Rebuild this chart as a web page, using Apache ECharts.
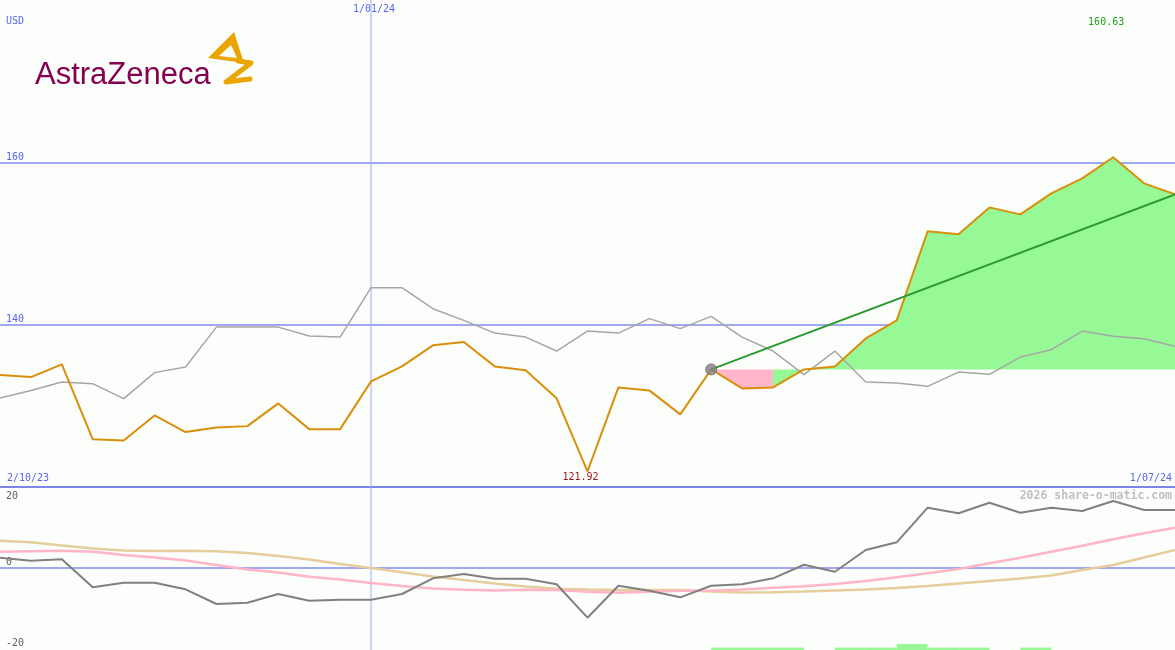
<!DOCTYPE html>
<html><head><meta charset="utf-8">
<script src="https://cdn.jsdelivr.net/npm/echarts@6/dist/echarts.min.js"></script>
<style>html,body{margin:0;padding:0;background:#fcfefc}#c{width:1175px;height:650px}</style>
</head><body><div id="c"></div>
<script>
// ---- data ----
const tickIndex = [0, 12, 38];
const tickLabels = ['2/10/23', '1/01/24', '1/07/24'];
const price = [133.79,133.54,135.11,125.87,125.74,128.82,126.77,127.34,127.50,130.30,127.13,127.13,133.01,134.86,137.45,137.86,134.86,134.37,130.92,121.92,132.27,131.90,128.95,134.49,132.15,132.27,134.49,134.86,138.31,140.53,151.50,151.13,154.45,153.59,156.18,158.03,160.63,157.41,156.06];
const relative = [130.95,131.90,132.93,132.73,130.88,134.09,134.78,139.70,139.70,139.70,138.60,138.47,144.56,144.56,141.97,140.53,138.96,138.47,136.75,139.21,138.96,140.74,139.51,141.02,138.47,136.75,133.84,136.75,132.93,132.80,132.40,134.16,133.88,136.01,136.92,139.21,138.56,138.27,137.33];
const momentum = [2.48,1.73,2.08,-4.86,-3.72,-3.72,-5.35,-9.00,-8.67,-6.52,-8.18,-7.93,-7.93,-6.52,-2.63,-1.56,-2.73,-2.73,-4.11,-12.39,-4.46,-5.70,-7.34,-4.46,-4.11,-2.63,0.74,-0.99,4.39,6.29,14.87,13.48,16.11,13.63,14.87,14.05,16.53,14.30,14.30];
const avgFast = [3.97,4.09,4.21,3.97,3.15,2.53,1.78,0.67,-0.45,-1.19,-2.23,-2.92,-3.79,-4.54,-5.15,-5.45,-5.65,-5.48,-5.53,-5.95,-6.20,-5.95,-5.70,-5.70,-5.40,-4.96,-4.61,-4.04,-3.30,-2.38,-1.39,-0.32,1.09,2.48,3.97,5.45,7.04,8.53,9.91];
const avgSlow = [6.69,6.32,5.50,4.76,4.26,4.14,4.19,4.09,3.64,2.90,2.03,0.92,-0.07,-1.12,-2.18,-3.05,-3.92,-4.66,-5.23,-5.40,-5.53,-5.53,-5.53,-5.90,-6.15,-6.10,-5.90,-5.65,-5.40,-5.03,-4.54,-3.92,-3.30,-2.68,-1.93,-0.57,0.67,2.53,4.39];
const signalBars = [null,null,null,null,null,null,null,null,null,null,null,null,null,null,null,null,null,null,null,null,null,null,null,0.6,0.6,0.6,null,0.6,0.6,1.5,0.6,0.6,null,0.6,null,null,null,null];
const anchorIndex = 23;
const splitIndex = 25;
const maxLabelRow = 177.3;

// ---- derived ----
const N = price.length;
const base = price[anchorIndex];
const pts = arr => arr.map((v, i) => [i, v]);
const pinkData = pts(price).slice(anchorIndex, splitIndex + 1);
const greenData = pts(price).slice(splitIndex);
let maxIdx = 0; price.forEach((v, i) => { if (v > price[maxIdx]) maxIdx = i; });
const labelOf = v => { const k = tickIndex.indexOf(Math.round(v)); return k >= 0 ? tickLabels[k] : ''; };
const barData = [];
signalBars.forEach((h, i) => { if (h != null) barData.push([i, h]); });
const barBase = -20.4;
const mainRange = [120, 180];
const lowRange = [-20, 20];

const BLUE = '#5a64f0';
const GRID = '#a0a8f0';
const VLINE = '#a0aaff';
const FONT = 'DejaVu Sans Mono';
const GOLD = '#eba500';

const chart = echarts.init(document.getElementById('c'), null, {renderer: 'canvas'});
chart.setOption({
  backgroundColor: '#fcfefc',
  animation: false,
  grid: [
    {left: 0, right: 0, top: 0, height: 487},
    {left: 0, right: 0, top: 487, height: 161.4}
  ],
  xAxis: [
    {gridIndex: 0, type: 'value', min: 0, max: N - 1, interval: N - 1, position: 'bottom',
     axisLine: {show: true, lineStyle: {color: '#7a86ea', width: 2}},
     axisTick: {show: false}, splitLine: {show: false},
     axisLabel: {inside: true, margin: 4, color: BLUE, fontFamily: FONT, fontSize: 10,
       alignMinLabel: 'left', alignMaxLabel: 'right', padding: [0, 3, 0, 7], formatter: labelOf}},
    {gridIndex: 0, type: 'value', min: 0, max: N - 1, interval: tickIndex[1], position: 'top',
     axisLine: {show: false}, axisTick: {show: false}, splitLine: {show: false},
     axisLabel: {inside: true, margin: 4, color: BLUE, fontFamily: FONT, fontSize: 10,
       showMinLabel: false, showMaxLabel: false, padding: [0, 0, 0, 6], formatter: labelOf}},
    {gridIndex: 1, type: 'value', min: 0, max: N - 1, show: false}
  ],
  yAxis: [
    {gridIndex: 0, type: 'value', min: mainRange[0], max: mainRange[1], interval: 20,
     axisLine: {show: false}, axisTick: {show: false},
     splitLine: {show: true, showMinLine: false, showMaxLine: false, lineStyle: {color: GRID, width: 2}},
     axisLabel: {inside: true, margin: 6, color: BLUE, fontFamily: FONT, fontSize: 10,
       verticalAlign: 'bottom', showMinLabel: false, showMaxLabel: false}},
    {gridIndex: 1, type: 'value', min: lowRange[0], max: lowRange[1], interval: 20,
     axisLine: {show: false}, axisTick: {show: false},
     splitLine: {show: true, showMinLine: false, showMaxLine: false, lineStyle: {color: GRID, width: 2}},
     axisLabel: {inside: true, margin: 6, color: '#606060', fontFamily: FONT, fontSize: 10,
       verticalAlign: 'bottom', verticalAlignMaxLabel: 'top', padding: [4, 0, 0, 0]}}
  ],
  graphic: [
    {type: 'text', left: 6, top: 16, style: {text: 'USD', fill: BLUE, font: '10px "DejaVu Sans Mono"'}},
    {type: 'text', right: 3, top: 490, style: {text: '2026 share-o-matic.com', fill: '#c0c0c0', font: 'bold 11.5px "DejaVu Sans Mono"'}},
    {type: 'text', x: 35, y: 75, style: {text: 'AstraZeneca', fill: '#850051', font: '31px "Liberation Sans"', verticalAlign: 'middle'}},
    {type: 'polygon', shape: {points: [[234,32],[208,58],[244,63]]}, style: {fill: GOLD}},
    {type: 'polygon', shape: {points: [[231,45],[219,56],[237,58]]}, style: {fill: '#fcfefc'}},
    {type: 'polyline', shape: {points: [[238,61],[251,63],[226,82],[250,79]]},
     style: {stroke: GOLD, lineWidth: 5, lineJoin: 'round', lineCap: 'round', fill: null}}
  ],
  series: [
    {type: 'line', xAxisIndex: 0, yAxisIndex: 0, data: [[tickIndex[1], mainRange[0]], [tickIndex[1], mainRange[1]]],
     symbol: 'none', z: 1, silent: true, lineStyle: {color: VLINE, width: 1}},
    {type: 'line', xAxisIndex: 2, yAxisIndex: 1, data: [[tickIndex[1], barBase], [tickIndex[1], lowRange[1]]],
     symbol: 'none', z: 1, silent: true, clip: false, lineStyle: {color: VLINE, width: 1}},
    {type: 'line', xAxisIndex: 0, yAxisIndex: 0, data: pts(relative), symbol: 'none', z: 3,
     lineStyle: {color: '#a6a6a6', width: 1.5}},
    {type: 'line', xAxisIndex: 0, yAxisIndex: 0, data: pinkData, symbol: 'none', z: 2,
     lineStyle: {width: 0}, areaStyle: {color: '#ffb6c8', opacity: 1, origin: base}},
    {type: 'line', xAxisIndex: 0, yAxisIndex: 0, data: greenData, symbol: 'none', z: 2,
     lineStyle: {width: 0}, areaStyle: {color: '#96f996', opacity: 1, origin: base}},
    {type: 'line', xAxisIndex: 0, yAxisIndex: 0, data: pts(price), symbol: 'none', z: 4,
     lineStyle: {color: '#d98f0a', width: 2},
     markPoint: {symbol: 'circle', symbolSize: 0, silent: true,
       data: [
         {type: 'min', label: {show: true, position: 'bottom', distance: 1, offset: [-7, 0], color: '#a01818',
           fontFamily: FONT, fontSize: 10, formatter: p => p.value.toFixed(2)}},
         {coord: [maxIdx, maxLabelRow], value: price[maxIdx], label: {show: true, position: 'inside', offset: [-7, 0],
           color: '#1c9e1c', fontFamily: FONT, fontSize: 10, formatter: p => p.value.toFixed(2)}}
       ]}},
    {type: 'line', xAxisIndex: 0, yAxisIndex: 0, data: [[anchorIndex, base], [N - 1, price[N - 1]]], symbol: 'none', z: 5,
     lineStyle: {color: '#2a9a2a', width: 2}},
    {type: 'scatter', xAxisIndex: 0, yAxisIndex: 0, data: [[anchorIndex, base]], symbolSize: 11, z: 6,
     itemStyle: {color: '#808080', borderColor: '#666', borderWidth: 1}},
    {type: 'custom', xAxisIndex: 2, yAxisIndex: 1, data: barData, clip: false, z: 2,
     renderItem: (params, api) => {
       const i = api.value(0), h = api.value(1);
       const p0 = api.coord([i, barBase]);
       const p1 = api.coord([i + 1, barBase + h]);
       return {type: 'rect', shape: {x: p0[0], y: p1[1], width: p1[0] - p0[0], height: p0[1] - p1[1]},
         style: {fill: '#96f996'}};
     }},
    {type: 'line', xAxisIndex: 2, yAxisIndex: 1, data: pts(avgSlow), symbol: 'none', z: 3,
     lineStyle: {color: '#e6cd9c', width: 2.5}},
    {type: 'line', xAxisIndex: 2, yAxisIndex: 1, data: pts(avgFast), symbol: 'none', z: 3,
     lineStyle: {color: '#ffb4c8', width: 2.5}},
    {type: 'line', xAxisIndex: 2, yAxisIndex: 1, data: pts(momentum), symbol: 'none', z: 4,
     lineStyle: {color: '#808080', width: 2}}
  ]
});
</script></body></html>
